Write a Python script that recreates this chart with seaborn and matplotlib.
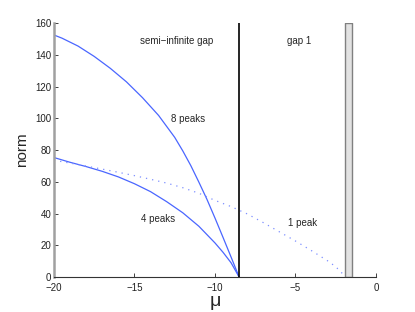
import numpy as np
import pandas as pd
import seaborn as sns
import matplotlib.pyplot as plt

# branch data (mu, norm)
mu_8 = [-20, -19.5, -18.5, -17.5, -16.5, -15.5, -14.5, -13.5, -12.5, -12.0,
        -11.5, -11.0, -10.5, -10.0, -9.5, -9.0, -8.5]
norm_8 = [152.5, 150.5, 145.5, 139.0, 131.5, 123.0, 113.0, 101.8, 88.0, 79.5,
          70.2, 59.8, 49.0, 37.2, 25.0, 12.6, 0]

mu_4 = [-20, -19, -18, -17, -16, -15, -14, -13, -12, -11, -10, -9.5, -9,
        -8.5]
norm_4 = [75.3, 72.3, 69.6, 66.6, 63.1, 58.8, 53.8, 47.5, 40.5, 32.0, 21.5,
          15.6, 9.0, 0]

mu_1 = [-20, -19, -18, -17, -16, -15, -14, -13, -12, -11, -10, -9, -8, -7,
        -6, -5, -4, -3, -2.5, -1.95]
norm_1 = [73.6, 71.8, 69.9, 68.0, 66.0, 63.9, 61.6, 59.2, 56.3, 52.8, 48.3,
          44.4, 39.8, 34.3, 28.5, 22.7, 16.6, 10.2, 6.5, 0.8]

band_edge = -8.5          # edge of semi-infinite gap
gap1 = [-1.95, -1.5]      # first Bloch band (grey)
norm_max = 160

x_ticks = [-20, -15, -10, -5, 0]
y_ticks = [0, 20, 40, 60, 80, 100, 120, 140, 160]

labels = [("semi\u2212infinite gap", -12.39, 148.6),
          ("gap 1", -4.78, 149.0),
          ("8 peaks", -11.68, 99.4),
          ("4 peaks", -13.54, 36.3),
          ("1 peak", -4.53, 34.2)]

sns.set_theme(style="ticks")
plt.rcParams["font.family"] = ["Liberation Sans", "DejaVu Sans"]

fig = plt.figure(figsize=(4.15, 3.12), dpi=100)
ax = fig.add_axes([0.130, 0.112, 0.776, 0.814])

blue = "#4a66ff"
for mu, nrm in [(mu_8, norm_8), (mu_4, norm_4)]:
    sns.lineplot(x=mu, y=nrm, ax=ax, color=blue, lw=0.9, sort=False,
                 estimator=None)
sns.lineplot(x=mu_1, y=norm_1, ax=ax, color="#7d8fff", lw=0.9, sort=False,
             estimator=None, linestyle=(0, (1, 4)))

ax.plot([band_edge, band_edge], [0, norm_max], color="black", lw=1.2)
ax.fill_between(gap1, 0, norm_max, facecolor="#e2e2e2", edgecolor="#808080",
                lw=1.0)

for txt, x, y in labels:
    ax.text(x, y, txt, ha="center", va="center", fontsize=7)

ax.set_xlim(-20, 0)
ax.set_ylim(0, norm_max)
ax.set_xticks(x_ticks)
ax.set_yticks(y_ticks)
ax.tick_params(direction="in", length=3, labelsize=7, width=0.6,
               colors="#222222", pad=2)
ax.tick_params(axis="x", pad=4)
ax.set_xlabel("\u03bc", fontsize=14, labelpad=0)
ax.set_ylabel("norm", fontsize=11, labelpad=4)

sns.despine(ax=ax)
ax.spines["left"].set_color("#a0a0a0")
ax.spines["left"].set_linewidth(1.8)
ax.spines["bottom"].set_color("#333333")
ax.spines["bottom"].set_linewidth(0.8)

fig.savefig("out.png", dpi=100)
